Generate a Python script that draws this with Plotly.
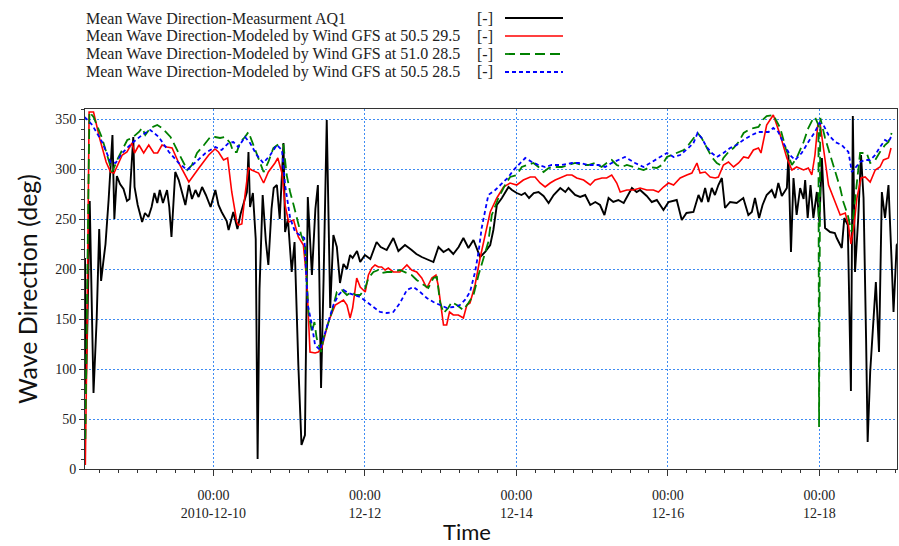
import pandas as pd
import plotly.graph_objects as go

# ---- data: hours after 2010-12-08 00:00 and wave direction (deg) ----
meas_h = [7.3, 7.6, 8.1, 8.8, 10.0, 11.0, 11.8, 12.4, 13.1, 13.8, 14.8, 15.4, 16.0, 16.6, 17.4, 18.4, 19.5,
          20.6, 21.4, 22.6, 23.0, 24.0, 25.4, 26.3, 27.4, 28.4, 29.3, 30.2, 31.0, 32.0, 33.3, 34.0, 34.7,
          35.9, 37.0, 38.1, 39.1, 40.2, 41.2, 42.3, 43.3, 44.4, 45.6, 47.1, 48.6, 49.6, 50.6, 52.2, 52.8,
          54.3, 55.6, 56.6, 57.8, 58.6, 59.1, 59.6, 60.5, 61.4, 62.0, 62.6, 63.6, 64.6, 65.4, 66.4, 67.1,
          68.1, 69.0, 70.2, 70.7, 71.6, 72.8, 73.7, 74.9, 75.9, 77.0, 77.9, 79.2, 80.3, 81.1, 82.1, 82.9,
          83.9, 85.0, 86.0, 87.1, 88.1, 89.2, 90.3, 91.3, 92.1, 93.5, 94.5, 96.0, 97.7, 99.7, 101.0, 102.9,
          105.0, 106.6, 108.7, 110.8, 112.3, 114.0, 116.1, 117.7, 119.3, 120.9, 122.5, 124.0, 125.7, 127.2,
          128.8, 130.4, 132.5, 134.1, 135.7, 136.7, 137.8, 139.4, 141.5, 142.6, 144.1, 145.6, 146.7, 148.0,
          149.5, 151.0, 152.6, 154.2, 155.8, 157.9, 159.5, 160.5, 162.6, 164.2, 165.8, 167.4, 169.0, 170.5,
          171.9, 173.2, 174.7, 176.3, 178.0, 179.5, 180.6, 182.1, 183.2, 185.3, 186.9, 188.5, 190.6, 192.2,
          194.8, 196.4, 197.9, 200.1, 201.7, 202.7, 203.8, 204.8, 205.9, 206.9, 208.0, 209.1, 210.1, 211.7,
          213.8, 215.9, 217.5, 218.6, 219.6, 220.9, 222.0, 223.3, 224.9, 226.0, 227.0, 228.1, 229.7, 230.2,
          231.0, 231.8, 232.8, 233.9, 235.0, 235.5, 236.3, 237.2, 238.1, 239.2, 240.0, 240.8, 241.8, 243.4,
          244.9, 245.5, 247.1, 247.9, 249.0, 250.0, 250.6, 251.3, 252.3, 253.2, 254.0, 254.8, 255.3, 256.1,
          257.1, 257.9, 258.9, 259.8, 260.8, 261.9, 262.9, 263.5, 264.5, 265.0]
meas_v = [211, 84, 150, 268, 76, 150, 240, 188, 207, 225, 270, 300, 334, 250, 293, 285, 280,
          268, 270, 332, 282, 264, 247, 256, 252, 262, 276, 266, 279, 266, 279, 262, 232,
          297, 289, 276, 264, 284, 270, 279, 272, 282, 274, 262, 279, 264, 257, 248, 239,
          257, 240, 255, 270, 277, 317, 262, 276, 230, 10, 180, 274, 228, 204, 260, 281,
          284, 250, 326, 237, 250, 197, 227, 104, 24, 34, 272, 194, 260, 284, 81, 190,
          349, 161, 234, 222, 186, 205, 200, 214, 211, 218, 207, 214, 210, 227, 222, 219,
          231, 218, 224, 219, 215, 212, 209, 207, 222, 217, 220, 215, 222, 231,
          221, 229, 212, 217, 224, 239, 264, 271, 282, 279, 276, 274, 276, 271,
          276, 277, 273, 266, 274, 281, 277, 281, 274, 272, 274, 264, 267, 264,
          254, 271, 267, 269, 266, 274, 281, 277, 279, 273, 267, 269, 259, 267,
          269, 249, 256, 257, 274, 267, 281, 267, 281, 274, 284, 291, 261, 267,
          266, 271, 254, 257, 271, 251, 264, 274, 279, 271, 286, 273, 281, 314,
          217, 291, 254, 281, 270, 289, 251, 284, 251, 277, 247, 311, 241, 237,
          236, 231, 221, 251, 244, 78, 353, 197, 250, 314, 271, 131, 27, 97,
          150, 187, 117, 277, 251, 284, 207, 157, 224, 226]

red_h = [7.4, 8.0, 8.6, 10.0, 12.0, 14.0, 15.4, 16.5, 19.1, 20.6, 22.2, 23.0, 24.4, 25.9, 27.5, 29.1, 30.3,
         31.7, 33.3, 34.9, 37.0, 40.2, 43.4, 46.5, 48.5, 49.6, 51.2, 52.5, 53.8, 55.4, 55.9, 57.0, 58.0,
         59.1, 60.1, 62.3, 63.9, 65.4, 67.5, 68.4, 69.7, 70.7, 71.8, 73.4, 74.9, 76.5, 77.6, 78.6, 80.2,
         81.2, 82.3, 84.4, 86.6, 88.1, 89.2, 90.3, 91.3, 92.1, 93.4, 94.5, 96.1, 97.1, 98.2, 99.2, 100.3,
         101.3, 102.4, 103.4, 105.0, 107.1, 109.3, 110.8, 112.4, 114.0, 115.6, 117.2, 118.5, 119.2, 120.0,
         120.9, 121.9, 122.8, 124.0, 125.6, 127.2, 128.3, 129.3, 130.9, 132.5, 134.1, 135.7, 137.8, 139.9,
         142.0, 144.1, 146.2, 148.4, 149.9, 151.5, 153.1, 154.7, 156.3, 158.4, 160.0, 161.6, 163.1, 165.3,
         167.4, 168.9, 171.1, 172.6, 174.2, 175.8, 176.9, 179.0, 181.1, 183.2, 185.3, 187.4, 189.0, 190.6,
         192.2, 193.8, 195.9, 198.0, 199.6, 201.2, 202.2, 203.8, 205.4, 207.0, 208.0, 209.6, 211.2, 212.8,
         214.4, 216.0, 217.5, 219.1, 220.7, 221.5, 222.3, 223.3, 225.4, 227.6, 229.7, 231.3, 232.8, 235.0,
         236.5, 237.6, 238.6, 239.5, 240.2, 240.8, 241.8, 242.9, 244.5, 246.6, 248.2, 249.2, 250.0, 251.0,
         251.9, 253.2, 254.5, 256.1, 257.7, 259.2, 260.3, 261.9, 262.7]
red_v = [4, 150, 357, 357, 330, 307, 297, 296, 314, 317, 326, 316, 324, 316, 324, 316, 316,
         324, 322, 321, 306, 287, 301, 314, 320, 317, 309, 311, 277, 247, 244, 245, 274,
         301, 299, 296, 286, 297, 306, 311, 296, 264, 247, 249, 232, 224, 187, 117, 116,
         117, 121, 147, 164, 167, 169, 164, 151, 161, 191, 182, 177, 194, 201, 204, 202,
         202, 199, 201, 197, 197, 204, 199, 197, 191, 181, 191, 194, 184, 164,
         144, 144, 157, 154, 154, 151, 164, 166, 184, 211, 235, 257, 271, 282,
         286, 284, 289, 292, 292, 286, 282, 286, 289, 292, 294, 294, 291, 289,
         284, 289, 291, 291, 294, 286, 277, 279, 279, 281, 279, 279, 277, 282,
         286, 284, 291, 294, 296, 306, 296, 297, 292, 291, 292, 304, 307, 302,
         306, 312, 311, 319, 321, 316, 327, 344, 354, 334, 311, 299, 302, 299,
         301, 294, 314, 344, 346, 331, 307, 284, 271, 254, 256, 244, 225, 244,
         271, 291, 292, 287, 299, 302, 309, 311, 321]

green_h = [7.4, 8.2, 8.7, 10.0, 12.7, 15.9, 17.8, 20.7, 22.2, 24.4, 25.4, 26.4, 28.0, 30.2, 31.7, 34.4,
           37.0, 39.7, 41.2, 42.8, 45.0, 47.0, 48.5, 50.1, 51.7, 53.3, 54.3, 55.4, 56.5, 58.0, 59.1, 60.7,
           62.3, 63.9, 65.4, 67.0, 69.1, 70.2, 71.2, 72.3, 73.4, 74.4, 75.8, 77.0, 78.1, 79.2, 80.0, 80.7,
           82.1, 82.9, 83.9, 85.5, 87.1, 88.7, 90.3, 91.8, 93.0, 94.5, 96.1, 97.1, 98.7, 100.3, 101.3, 103.0,
           105.0, 107.1, 109.3, 110.8, 112.4, 114.5, 116.1, 117.7, 118.8, 119.8, 120.9, 122.4, 123.5, 125.1,
           127.2, 128.8, 130.4, 132.0, 133.5, 135.1, 136.2, 138.3, 140.4, 142.0, 144.1, 145.7, 147.3, 149.4,
           151.0, 152.6, 154.2, 156.3, 158.4, 160.5, 162.6, 164.7, 166.8, 168.9, 171.0, 172.6, 174.2, 175.8,
           177.4, 179.0, 182.1, 184.3, 186.4, 188.5, 190.1, 191.7, 193.2, 194.8, 197.0, 198.5, 200.1, 201.4,
           202.7, 204.3, 205.9, 207.5, 208.6, 209.6, 211.2, 212.8, 214.4, 216.0, 217.5, 219.1, 220.7, 222.3,
           223.3, 225.4, 227.6, 229.4, 231.3, 232.8, 235.0, 236.5, 237.8, 238.6, 239.7, 239.9, 240.3, 241.8,
           243.4, 245.0, 246.6, 247.6, 249.0, 250.2, 251.1, 251.9, 252.9, 255.0, 256.1, 257.7, 259.2, 260.8,
           261.9, 262.9]
green_v = [30, 250, 357, 352, 331, 297, 311, 329, 331, 337, 341, 334, 341, 344, 341, 332,
           316, 299, 304, 316, 324, 332, 332, 331, 332, 326, 317, 317, 327, 332, 337, 324,
           312, 297, 307, 321, 326, 324, 294, 277, 264, 251, 234, 224, 157, 137, 147, 131,
           117, 131, 141, 157, 177, 179, 174, 177, 174, 174, 181, 191, 197, 199, 196, 197,
           197, 199, 196, 194, 189, 184, 181, 191, 192, 167, 156, 161, 167, 164,
           159, 166, 174, 194, 211, 227, 254, 271, 284, 292, 294, 302, 304, 306,
           302, 297, 301, 302, 302, 304, 306, 304, 304, 306, 302, 306, 309, 304,
           302, 304, 301, 299, 302, 301, 304, 312, 314, 316, 319, 324, 331, 336,
           331, 321, 312, 306, 304, 311, 317, 321, 327, 336, 339, 341, 342, 350,
           353, 354, 341, 320, 304, 311, 327, 341, 349, 352, 344, 42, 351, 331,
           314, 297, 281, 267, 254, 237, 264, 291, 316, 316, 306, 309, 317, 324,
           327, 336]

blue_h = [7.2, 9.6, 12.7, 15.4, 17.0, 19.1, 22.2, 25.4, 28.0, 30.7, 33.9, 37.0, 39.7, 42.3, 45.5, 48.6,
          50.6, 52.8, 54.3, 55.9, 58.0, 59.6, 61.7, 63.8, 66.0, 68.1, 69.7, 70.7, 72.3, 73.9, 75.5, 76.8,
          77.9, 79.2, 80.2, 81.8, 82.9, 84.4, 86.0, 87.6, 89.2, 90.8, 92.9, 94.5, 96.6, 98.7, 100.8, 102.9,
          105.0, 107.1, 109.3, 111.4, 113.5, 115.6, 117.7, 119.8, 122.0, 124.0, 126.1, 127.7, 129.3, 130.9,
          132.0, 133.0, 134.1, 135.1, 137.3, 139.4, 141.5, 143.1, 144.7, 146.8, 148.9, 151.0, 153.1, 155.2,
          158.4, 161.6, 164.2, 166.8, 170.0, 172.1, 174.2, 176.3, 178.4, 181.6, 184.3, 186.9, 189.5, 191.7,
          193.8, 195.9, 198.5, 200.1, 201.4, 202.7, 204.3, 205.9, 207.5, 209.6, 211.7, 213.8, 215.9, 218.6,
          220.7, 223.9, 225.4, 227.0, 228.6, 230.7, 232.3, 234.4, 236.5, 238.6, 240.0, 241.3, 242.9, 245.0,
          247.1, 249.2, 250.3, 251.3, 252.9, 254.5, 256.1, 257.7, 259.2, 260.8, 261.9, 262.7]
blue_v = [352, 344, 327, 307, 306, 316, 326, 334, 339, 332, 317, 306, 299, 307, 316, 322,
          319, 326, 327, 322, 332, 326, 314, 306, 314, 324, 319, 284, 251, 237, 234, 231,
          164, 144, 124, 119, 131, 147, 164, 174, 179, 176, 174, 172, 167, 162, 157, 156,
          157, 166, 179, 182, 177, 171, 167, 164, 161, 162, 164, 169, 177, 197,
          217, 241, 257, 274, 279, 286, 292, 299, 304, 311, 307, 304, 302, 304,
          304, 306, 306, 304, 304, 302, 306, 309, 312, 306, 302, 307, 312, 316,
          312, 314, 321, 326, 336, 331, 322, 316, 312, 316, 321, 324, 329, 334,
          337, 337, 341, 337, 326, 314, 309, 316, 327, 337, 346, 344, 334, 327,
          324, 317, 297, 301, 307, 309, 309, 314, 322, 329, 327, 332]

legend_names = ["Mean Wave Direction-Measurment AQ1",
                "Mean Wave Direction-Modeled by Wind GFS at 50.5 29.5",
                "Mean Wave Direction-Modeled by Wind GFS at 51.0 28.5",
                "Mean Wave Direction-Modeled by Wind GFS at 50.5 28.5"]
x_tick_dates = ["2010-12-10", "2010-12-12", "2010-12-14", "2010-12-16", "2010-12-18"]
x_tick_text = ["00:00<br>2010-12-10", "00:00<br>12-12", "00:00<br>12-14", "00:00<br>12-16", "00:00<br>12-18"]
y_ticks = [0, 50, 100, 150, 200, 250, 300, 350]

base = pd.Timestamp("2010-12-08 00:00")
def to_dt(hs):
    return [base + pd.Timedelta(hours=h) for h in hs]

SERIF = "Liberation Serif, Times New Roman, serif"
SANS = "Lato, Carlito, Calibri, sans-serif"
GRID = "#3f8cf2"

styles = [
    dict(color="#000000", width=1.9, dash="solid"),
    dict(color="#ff0000", width=1.6, dash="solid"),
    dict(color="#008000", width=1.8, dash="10px,5px"),
    dict(color="#0000ff", width=1.8, dash="4px,3px"),
]
series = [(meas_h, meas_v), (red_h, red_v), (green_h, green_v), (blue_h, blue_v)]

fig = go.Figure()
for (hs, vs), st, nm in zip(series, styles, legend_names):
    fig.add_trace(go.Scatter(x=to_dt(hs), y=vs, mode="lines", name=nm,
                             line=dict(color=st["color"], width=st["width"], dash=st["dash"]),
                             showlegend=False))

L, R, T, B = 85, 897, 109, 469
W, H = 899, 546
def px(xp):
    return (xp - L) / (R - L)
def py(yp):
    return (B - yp) / (B - T)

annotations = []
shapes = []
rows_y = [18, 36, 54, 72]
for name, st, ry in zip(legend_names, styles, rows_y):
    annotations.append(dict(x=px(84), y=py(ry), xref="paper", yref="paper", text=name,
                            showarrow=False, xanchor="left", yanchor="middle",
                            font=dict(family=SERIF, size=16, color="#222")))
    annotations.append(dict(x=px(475), y=py(ry), xref="paper", yref="paper", text="[-]",
                            showarrow=False, xanchor="left", yanchor="middle",
                            font=dict(family=SERIF, size=16, color="#222")))
    shapes.append(dict(type="line", xref="paper", yref="paper", x0=px(505), x1=px(563),
                       y0=py(ry), y1=py(ry),
                       line=dict(color=st["color"], width=st["width"], dash=st["dash"])))

annotations.append(dict(x=px(467), y=py(531), xref="paper", yref="paper", text="Time",
                        showarrow=False, xanchor="center", yanchor="middle",
                        font=dict(family=SANS, size=22, color="#111")))
annotations.append(dict(x=px(27), y=py(289), xref="paper", yref="paper", text="Wave Direction (deg)",
                        showarrow=False, xanchor="center", yanchor="middle", textangle=-90,
                        font=dict(family=SANS, size=25, color="#111")))

fig.update_layout(
    width=W, height=H, autosize=False,
    margin=dict(l=L, r=W - R, t=T, b=H - B),
    paper_bgcolor="white", plot_bgcolor="white",
    annotations=annotations, shapes=shapes,
    xaxis=dict(type="date",
               range=[base + pd.Timedelta(hours=7.3), base + pd.Timedelta(hours=264.6)],
               tickmode="array", tickvals=[pd.Timestamp(d) for d in x_tick_dates], ticktext=x_tick_text,
               ticks="outside", ticklen=6, tickcolor="#333",
               tickfont=dict(family=SERIF, size=14, color="#222"),
               ticklabelstandoff=7,
               showgrid=True, gridcolor=GRID, griddash="2px,2px", gridwidth=1.2,
               showline=True, linecolor="#333", linewidth=1, mirror=True,
               zeroline=False,
               minor=dict(ticks="outside", ticklen=3, tickcolor="#333",
                          dtick=6 * 3600 * 1000, tick0="2010-12-08", showgrid=False)),
    yaxis=dict(range=[0, 360], tickmode="array", tickvals=y_ticks,
               ticks="outside", ticklen=5, tickcolor="#333",
               tickfont=dict(family=SERIF, size=14, color="#222"),
               showgrid=True, gridcolor=GRID, griddash="2px,2px", gridwidth=1.2,
               showline=True, linecolor="#333", linewidth=1, mirror=True,
               zeroline=False,
               minor=dict(ticks="outside", ticklen=3, tickcolor="#333", dtick=10, tick0=0,
                          showgrid=False)),
)

fig.write_html("out.html")
